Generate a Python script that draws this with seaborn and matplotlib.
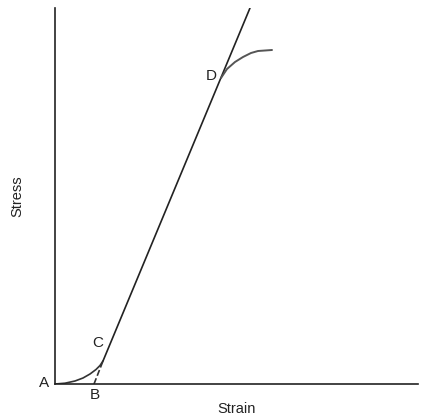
import seaborn as sns
import matplotlib.pyplot as plt
import pandas as pd

sns.set_style("white")
plt.rcParams['font.family'] = ['Liberation Sans', 'DejaVu Sans']

# toe region A -> C
toe_x = [0, 10, 20, 28, 35, 41, 45, 48]
toe_y = [0, 0.8, 3, 6, 10, 14.5, 18.5, 23]
# extrapolation B -> C
ext_x = [39, 48]
ext_y = [0, 23]
# linear region C -> top
lin_x = [48, 195]
lin_y = [23, 376]
# yield region D -> end
yld_x = [166, 172, 180, 188, 196, 203, 210, 217]
yld_y = [306, 315, 322, 327, 331, 333, 333.5, 334]

labels = ["A", "B", "C", "D"]
label_x = [-11, 40, 43, 156]
label_y = [1, -11, 41, 308]

fig = plt.figure(figsize=(4.22, 4.18), dpi=100)
ax = fig.add_axes([55 / 422, 34 / 418, 363 / 422, 376 / 418])

sns.lineplot(x=toe_x, y=toe_y, ax=ax, color="#333333", lw=1.2, sort=False)
sns.lineplot(x=ext_x, y=ext_y, ax=ax, color="#333333", lw=1.2, ls="--", sort=False)
sns.lineplot(x=lin_x, y=lin_y, ax=ax, color="#222222", lw=1.2, sort=False)
sns.lineplot(x=yld_x, y=yld_y, ax=ax, color="#555555", lw=1.4, sort=False)

for t, x, y in zip(labels, label_x, label_y):
    ax.text(x, y, t, fontsize=11, color="#222222", ha="center", va="center", clip_on=False)

ax.set_xlim(0, 363)
ax.set_ylim(0, 376)
ax.set_xticks([])
ax.set_yticks([])
sns.despine(ax=ax)
for s in ["left", "bottom"]:
    ax.spines[s].set_color("#222222")
    ax.spines[s].set_linewidth(1.2)

ax.set_xlabel("Strain", fontsize=10.5, color="#222222", labelpad=13)
ax.set_ylabel("Stress", fontsize=10.5, color="#222222", labelpad=22)

fig.savefig("out.png", dpi=100)
